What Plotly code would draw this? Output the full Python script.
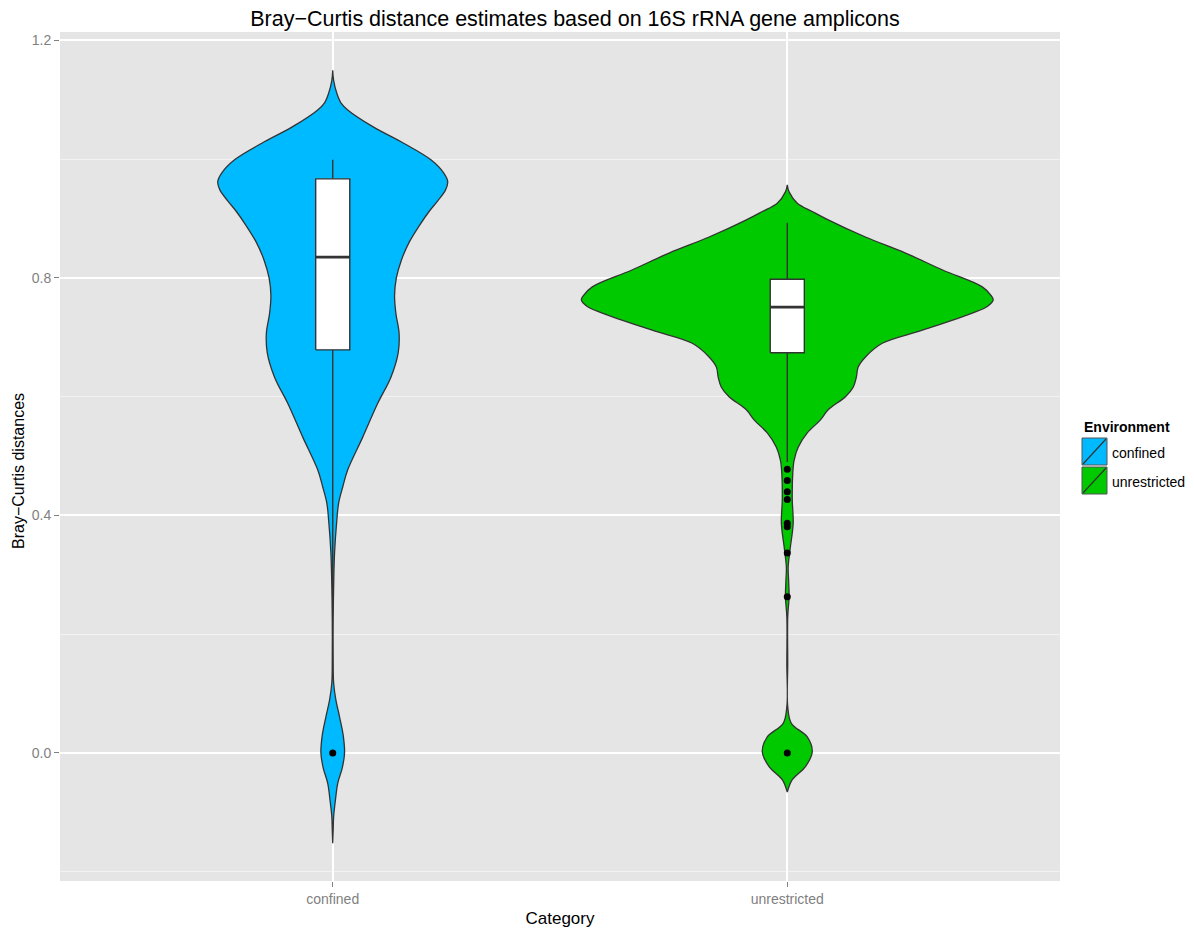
import plotly.graph_objects as go

# ---- data -------------------------------------------------------------
categories = ["confined", "unrestricted"]
cat_pos = [1, 2]
fill_colors = ["#00BAFF", "#00C900"]

# violin outlines: distance value and density half-width (x units)
confined_y = [1.150, 1.133, 1.111, 1.095, 1.083, 1.054, 1.027, 0.999, 0.977, 0.962,
              0.948, 0.930, 0.912, 0.890, 0.860, 0.830, 0.800, 0.770, 0.740, 0.707,
              0.674, 0.633, 0.589, 0.532, 0.477, 0.448, 0.421, 0.392, 0.337, 0.280,
              0.224, 0.157, 0.118, 0.089, 0.061, 0.030, 0.000, -0.025, -0.051,
              -0.079, -0.107, -0.130, -0.152]
confined_hw = [0.000, 0.002, 0.009, 0.018, 0.033, 0.090, 0.156, 0.216, 0.244, 0.253,
               0.248, 0.231, 0.212, 0.192, 0.168, 0.151, 0.140, 0.136, 0.139, 0.146,
               0.144, 0.128, 0.099, 0.066, 0.033, 0.022, 0.013, 0.009, 0.004, 0.002,
               0.001, 0.001, 0.002, 0.007, 0.015, 0.023, 0.026, 0.021, 0.011,
               0.006, 0.002, 0.001, 0.000]

unrestricted_y = [0.957, 0.945, 0.926, 0.912, 0.898, 0.869, 0.842, 0.813, 0.785, 0.770,
                  0.763, 0.752, 0.741, 0.712, 0.690, 0.667, 0.650, 0.633, 0.616, 0.600,
                  0.578, 0.561, 0.539, 0.515, 0.493, 0.470, 0.426, 0.387, 0.342, 0.313,
                  0.290, 0.263, 0.229, 0.150, 0.078, 0.050, 0.027, 0.002, -0.023,
                  -0.045, -0.066]
unrestricted_hw = [0.000, 0.004, 0.022, 0.055, 0.090, 0.172, 0.260, 0.343, 0.429, 0.449,
                   0.453, 0.440, 0.407, 0.297, 0.209, 0.172, 0.156, 0.152, 0.145, 0.128,
                   0.090, 0.073, 0.044, 0.024, 0.015, 0.012, 0.011, 0.013, 0.006, 0.002,
                   0.003, 0.004, 0.001, 0.001, 0.001, 0.009, 0.044, 0.055, 0.040,
                   0.011, 0.000]

# box-plot summaries
box_lower = [0.250, 0.490]
box_q1 = [0.679, 0.674]
box_median = [0.835, 0.751]
box_q3 = [0.967, 0.798]
box_upper = [0.999, 0.893]

# outlying observations
outliers_confined = [0.000]
outliers_unrestricted = [0.478, 0.459, 0.440, 0.427, 0.387, 0.381, 0.337, 0.263, 0.000]

# ---- figure -----------------------------------------------------------
OUTLINE = "#333333"
BOX_W = 0.075
FONT = "Liberation Sans, Arial, sans-serif"

fig = go.Figure()

violins = [(confined_y, confined_hw), (unrestricted_y, unrestricted_hw)]
for pos, color, (ys, hws) in zip(cat_pos, fill_colors, violins):
    xs = [pos + w for w in hws] + [pos - w for w in reversed(hws)]
    yy = list(ys) + list(reversed(ys))
    fig.add_trace(go.Scatter(
        x=xs + [xs[0]], y=yy + [yy[0]], mode="lines", fill="toself",
        fillcolor=color, line=dict(color=OUTLINE, width=1.3, shape="spline", smoothing=1.0),
        hoverinfo="skip", showlegend=False))

# box plots, drawn as scatter paths so they sit above the violin fills
for i, pos in enumerate(cat_pos):
    x0, x1 = pos - BOX_W / 2, pos + BOX_W / 2
    # whiskers
    fig.add_trace(go.Scatter(
        x=[pos, pos, None, pos, pos],
        y=[box_q3[i], box_upper[i], None, box_q1[i], box_lower[i]],
        mode="lines", line=dict(color=OUTLINE, width=1.4),
        hoverinfo="skip", showlegend=False))
    # box body
    fig.add_trace(go.Scatter(
        x=[x0, x1, x1, x0, x0],
        y=[box_q1[i], box_q1[i], box_q3[i], box_q3[i], box_q1[i]],
        mode="lines", fill="toself", fillcolor="white",
        line=dict(color=OUTLINE, width=1.4), hoverinfo="skip", showlegend=False))
    # heavier median bar
    fig.add_trace(go.Scatter(
        x=[x0, x1], y=[box_median[i], box_median[i]],
        mode="lines", line=dict(color=OUTLINE, width=2.8), hoverinfo="skip",
        showlegend=False))

for pos, vals in zip(cat_pos, [outliers_confined, outliers_unrestricted]):
    fig.add_trace(go.Scatter(
        x=[pos] * len(vals), y=vals, mode="markers",
        marker=dict(color="black", size=7), showlegend=False))

# ---- legend drawn by hand (filled key with a diagonal stroke) -----------
L, T, R, B = 60, 32, 134, 49          # margins in pixels
W, H = 1194, 930
PW, PH = W - L - R, H - T - B


def px_x(px):
    return (px - L) / PW


def px_y(py):
    return (H - B - py) / PH


shapes = []
annotations = []
# y-axis title
annotations.append(dict(
    x=px_x(18), y=px_y(471), xref="paper", yref="paper", xanchor="center",
    yanchor="middle", showarrow=False, textangle=-90, text="Bray\u2212Curtis distances",
    font=dict(family=FONT, size=16, color="black")))
annotations.append(dict(
    x=px_x(1082), y=px_y(427), xref="paper", yref="paper", xanchor="left",
    yanchor="middle", showarrow=False, text="<b>Environment</b>",
    font=dict(family=FONT, size=14, color="black")))
for k, (label, color) in enumerate(zip(categories, fill_colors)):
    top = 438 + k * 29
    bot = top + 27
    shapes.append(dict(type="rect", xref="paper", yref="paper",
                       x0=px_x(1082), x1=px_x(1107), y0=px_y(bot), y1=px_y(top),
                       fillcolor=color, line=dict(color="#555555", width=1)))
    shapes.append(dict(type="line", xref="paper", yref="paper",
                       x0=px_x(1083), x1=px_x(1106), y0=px_y(bot - 1), y1=px_y(top + 1),
                       line=dict(color=OUTLINE, width=1.2)))
    annotations.append(dict(
        x=px_x(1110), y=px_y((top + bot) / 2 + 1), xref="paper", yref="paper",
        xanchor="left", yanchor="middle", showarrow=False, text=label,
        font=dict(family=FONT, size=14, color="black")))

fig.update_layout(
    width=W, height=H,
    margin=dict(l=L, r=R, t=T, b=B, pad=0),
    paper_bgcolor="white", plot_bgcolor="#E5E5E5",
    font=dict(family=FONT, color="black"),
    title=dict(text="Bray\u2212Curtis distance estimates based on 16S rRNA gene amplicons",
               x=px_x(575), xref="paper", xanchor="center",
               y=1 - 18 / H, yref="container", yanchor="middle",
               font=dict(size=21.5, color="black")),
    showlegend=False,
    shapes=shapes, annotations=annotations,
    xaxis=dict(
        range=[0.4, 2.6], tickvals=cat_pos, ticktext=categories, automargin=False,
        showgrid=True, gridcolor="white", gridwidth=1.8, zeroline=False,
        ticks="outside", ticklen=5, tickwidth=1, tickcolor="#7F7F7F",
        tickfont=dict(size=14, color="#7F7F7F"),
        title=dict(text="Category", font=dict(size=17, color="black"), standoff=6)),
    yaxis=dict(
        range=[-0.2156, 1.2143], tickvals=[0.0, 0.4, 0.8, 1.2], automargin=False,
        ticktext=["0.0", "0.4", "0.8", "1.2"],
        showgrid=True, gridcolor="white", gridwidth=1.8, zeroline=False,
        minor=dict(tickvals=[-0.2, 0.2, 0.6, 1.0], showgrid=True,
                   gridcolor="#F2F2F2", gridwidth=0.9, ticks=""),
        ticks="outside", ticklen=5, tickwidth=1, tickcolor="#7F7F7F",
        tickfont=dict(size=14, color="#7F7F7F")),
)

fig.write_html("out.html")
